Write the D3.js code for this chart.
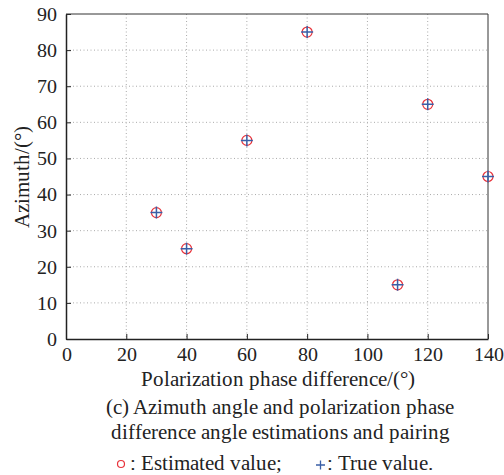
<!DOCTYPE html>
<html><head><meta charset="utf-8">
<script src="https://cdn.jsdelivr.net/npm/d3@7"></script>
<style>
@font-face { font-family: "RefSerif"; src: local("Liberation Serif"), local("LiberationSerif"), local("Liberation Serif Regular"), local("LiberationSerif-Regular"), local("Times New Roman"); }
body{margin:0;background:#fff}svg{display:block}
</style>
</head><body>
<svg id="c" width="504" height="475"></svg>
<script>
const phaseDiff = [30, 40, 60, 80, 110, 120, 140];
const azimuthEst = [35, 25, 55, 85, 15, 65, 45];
const azimuthTrue = [35, 25, 55, 85, 15, 65, 45];
const xTicks = [0, 20, 40, 60, 80, 100, 120, 140];
const yTicks = [0, 10, 20, 30, 40, 50, 60, 70, 80, 90];

const svg = d3.select("#c");
const FS = 20, LS = 21;
const FF = '"RefSerif", "Liberation Serif", "Times New Roman", Tinos, "Nimbus Roman", FreeSerif';
const L = 66, R = 488, T = 14, B = 339;
const x = d3.scaleLinear().domain([0, 140]).range([L, R]);
const y = d3.scaleLinear().domain([0, 90]).range([B, T]);

// grid
const g = svg.append("g");
g.selectAll(".vg").data(xTicks.slice(1, -1)).join("line")
  .attr("x1", d => x(d)).attr("x2", d => x(d)).attr("y1", T).attr("y2", B)
  .attr("stroke", "#aaa").attr("stroke-width", 1).attr("stroke-dasharray", "1,2.5");
g.selectAll(".hg").data(yTicks.slice(1, -1)).join("line")
  .attr("y1", d => y(d)).attr("y2", d => y(d)).attr("x1", L).attr("x2", R)
  .attr("stroke", "#aaa").attr("stroke-width", 1).attr("stroke-dasharray", "1,2.5");

// axes
const xAxis = d3.axisBottom(x).tickValues(xTicks).tickSizeInner(-5).tickSizeOuter(0).tickPadding(8);
const yAxis = d3.axisLeft(y).tickValues(yTicks).tickSizeInner(-5).tickSizeOuter(0).tickPadding(9);
const gx = svg.append("g").attr("transform", `translate(0,${B})`).call(xAxis);
const gy = svg.append("g").attr("transform", `translate(${L},0)`).call(yAxis);
[gx, gy].forEach(a => {
  a.attr("font-family", null).attr("font-size", null);
  a.select(".domain").attr("stroke", "#222").attr("stroke-width", 1.5);
  a.selectAll(".tick line").attr("stroke", "#222");
  a.selectAll("text").classed("lbl", true).style("font-size", FS + "px").attr("fill", "#222");
});
// top & right border
svg.append("line").attr("x1", L).attr("x2", R).attr("y1", T).attr("y2", T).attr("stroke", "#333").attr("stroke-width", 1);
svg.append("line").attr("x1", R).attr("x2", R).attr("y1", T).attr("y2", B).attr("stroke", "#333").attr("stroke-width", 1);

// markers
svg.append("g").selectAll("circle").data(phaseDiff.map((p, i) => [p, azimuthEst[i]])).join("circle")
  .attr("cx", d => x(d[0])).attr("cy", d => y(d[1])).attr("r", 5)
  .attr("fill", "none").attr("stroke", "#e8323a").attr("stroke-width", 1.2);
svg.append("g").selectAll("path").data(phaseDiff.map((p, i) => [p, azimuthTrue[i]])).join("path")
  .attr("d", d => `M${x(d[0]) - 6},${y(d[1])}H${x(d[0]) + 6}M${x(d[0])},${y(d[1]) - 6}V${y(d[1]) + 6}`)
  .attr("stroke", "#3a5fa6").attr("stroke-width", 1.5).attr("fill", "none");

// labels
const txt = (xx, yy, s, anchor) => svg.append("text").classed("lbl", true).attr("x", xx).attr("y", yy)
  .attr("text-anchor", anchor || "middle").style("font-size", LS + "px")
  .attr("fill", "#222").text(s);
txt(278, 386, "Polarization phase difference/(°)");
svg.append("text").classed("lbl", true).attr("transform", "translate(29,177) rotate(-90)").attr("text-anchor", "middle")
  .style("font-size", LS + "px").attr("fill", "#222").text("Azimuth/(°)");
txt(280, 414, "(c) Azimuth angle and polarization phase");
txt(280, 439, "difference angle estimations and pairing");
// legend
svg.append("circle").attr("cx", 121).attr("cy", 464).attr("r", 3.5)
  .attr("fill", "none").attr("stroke", "#e8323a").attr("stroke-width", 1.2);
txt(130, 470, ": Estimated value;", "start");
svg.append("path").attr("d", "M316,465H325M320.5,460.5V469.5").attr("stroke", "#3a5fa6").attr("stroke-width", 1.3);
txt(327, 470, ": True value.", "start");

svg.selectAll("text.lbl").style("font-family", FF);
</script>
</body></html>
